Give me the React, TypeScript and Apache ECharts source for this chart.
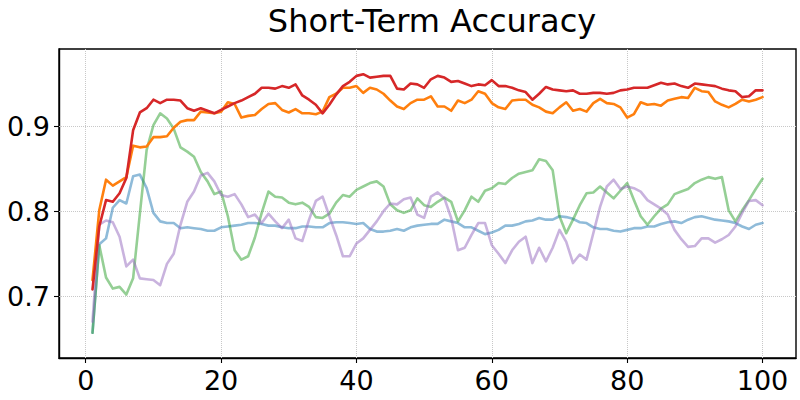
import React, { useEffect, useRef } from "react";
import * as echarts from "echarts";

const title = "Short-Term Accuracy";
const xTicks = [0, 20, 40, 60, 80, 100];
const yTicks = [0.7, 0.8, 0.9];

const redSeries = [
  0.708, 0.782, 0.813, 0.811, 0.821, 0.839, 0.895, 0.916, 0.921, 0.931,
  0.927, 0.931, 0.931, 0.930, 0.921, 0.918, 0.921, 0.918, 0.915, 0.919,
  0.923, 0.927, 0.930, 0.934, 0.938, 0.945, 0.945, 0.944, 0.947, 0.945,
  0.949, 0.936, 0.931, 0.925, 0.915, 0.925, 0.937, 0.947, 0.952, 0.959,
  0.961, 0.957, 0.958, 0.959, 0.959, 0.944, 0.943, 0.950, 0.949, 0.945,
  0.955, 0.959, 0.957, 0.952, 0.953, 0.950, 0.947, 0.949, 0.948, 0.954,
  0.947, 0.947, 0.945, 0.942, 0.940, 0.931, 0.938, 0.946, 0.943, 0.942,
  0.941, 0.942, 0.938, 0.938, 0.939, 0.939, 0.938, 0.939, 0.942, 0.943,
  0.945, 0.945, 0.945, 0.948, 0.951, 0.949, 0.950, 0.947, 0.945, 0.950,
  0.949, 0.948, 0.947, 0.944, 0.942, 0.941, 0.934, 0.935, 0.942, 0.942,
];

const orangeSeries = [
  0.719, 0.801, 0.837, 0.830, 0.835, 0.840, 0.877, 0.875, 0.876, 0.887,
  0.887, 0.888, 0.898, 0.905, 0.907, 0.907, 0.917, 0.916, 0.915, 0.917,
  0.928, 0.926, 0.910, 0.912, 0.913, 0.920, 0.926, 0.927, 0.919, 0.916,
  0.920, 0.915, 0.915, 0.914, 0.917, 0.934, 0.938, 0.945, 0.945, 0.947,
  0.939, 0.945, 0.943, 0.938, 0.930, 0.923, 0.920, 0.927, 0.931, 0.931,
  0.935, 0.923, 0.923, 0.918, 0.930, 0.927, 0.931, 0.941, 0.938, 0.927,
  0.922, 0.920, 0.930, 0.931, 0.931, 0.925, 0.922, 0.917, 0.915, 0.922,
  0.928, 0.918, 0.920, 0.917, 0.927, 0.932, 0.927, 0.926, 0.922, 0.910,
  0.914, 0.928, 0.925, 0.926, 0.924, 0.930, 0.932, 0.934, 0.933, 0.945,
  0.941, 0.940, 0.929, 0.925, 0.922, 0.926, 0.931, 0.929, 0.931, 0.934,
];

const greenSeries = [
  0.657, 0.760, 0.722, 0.709, 0.711, 0.702, 0.721, 0.797, 0.872, 0.901,
  0.915, 0.909, 0.897, 0.875, 0.870, 0.864, 0.846, 0.835, 0.820, 0.823,
  0.794, 0.754, 0.743, 0.747, 0.769, 0.798, 0.823, 0.817, 0.816, 0.810,
  0.808, 0.810, 0.805, 0.793, 0.792, 0.797, 0.810, 0.819, 0.817, 0.825,
  0.829, 0.833, 0.835, 0.829, 0.808, 0.801, 0.798, 0.801, 0.815, 0.807,
  0.805, 0.811, 0.816, 0.811, 0.788, 0.801, 0.817, 0.811, 0.824, 0.827,
  0.833, 0.832, 0.839, 0.844, 0.846, 0.848, 0.861, 0.859, 0.848, 0.794,
  0.774, 0.790, 0.807, 0.821, 0.822, 0.829, 0.822, 0.815, 0.824, 0.833,
  0.813, 0.794, 0.784, 0.794, 0.803, 0.808, 0.820, 0.823, 0.826, 0.833,
  0.837, 0.840, 0.838, 0.840, 0.801, 0.788, 0.801, 0.813, 0.826, 0.838,
];

const blueSeries = [
  0.657, 0.761, 0.768, 0.804, 0.813, 0.809, 0.841, 0.843, 0.827, 0.798,
  0.788, 0.786, 0.786, 0.780, 0.781, 0.780, 0.779, 0.777, 0.777, 0.781,
  0.782, 0.783, 0.784, 0.786, 0.786, 0.785, 0.783, 0.783, 0.781, 0.780,
  0.780, 0.782, 0.782, 0.781, 0.781, 0.786, 0.787, 0.787, 0.786, 0.785,
  0.786, 0.779, 0.776, 0.776, 0.777, 0.779, 0.777, 0.781, 0.783, 0.784,
  0.785, 0.785, 0.790, 0.788, 0.786, 0.781, 0.781, 0.777, 0.773, 0.775,
  0.778, 0.783, 0.783, 0.785, 0.788, 0.789, 0.792, 0.790, 0.790, 0.794,
  0.793, 0.791, 0.787, 0.786, 0.781, 0.779, 0.779, 0.777, 0.776, 0.778,
  0.780, 0.780, 0.782, 0.782, 0.785, 0.787, 0.788, 0.786, 0.790, 0.793,
  0.794, 0.792, 0.790, 0.789, 0.788, 0.786, 0.782, 0.779, 0.784, 0.786,
];

const purpleSeries = [
  0.670, 0.784, 0.789, 0.787, 0.770, 0.735, 0.743, 0.721, 0.720, 0.719,
  0.713, 0.738, 0.750, 0.784, 0.811, 0.823, 0.842, 0.845, 0.835, 0.819,
  0.817, 0.820, 0.808, 0.793, 0.796, 0.786, 0.797, 0.788, 0.780, 0.790,
  0.768, 0.765, 0.790, 0.812, 0.817, 0.794, 0.772, 0.747, 0.747, 0.762,
  0.768, 0.778, 0.788, 0.800, 0.809, 0.808, 0.814, 0.816, 0.796, 0.792,
  0.817, 0.822, 0.815, 0.792, 0.754, 0.757, 0.772, 0.786, 0.786, 0.760,
  0.750, 0.739, 0.754, 0.764, 0.770, 0.739, 0.757, 0.741, 0.757, 0.778,
  0.764, 0.739, 0.749, 0.743, 0.774, 0.805, 0.829, 0.837, 0.826, 0.829,
  0.827, 0.823, 0.813, 0.808, 0.803, 0.796, 0.778, 0.767, 0.758, 0.759,
  0.768, 0.768, 0.763, 0.767, 0.772, 0.782, 0.798, 0.812, 0.813, 0.807,
];

const FONT = "DejaVu Sans";

function toPairs(arr: number[]) {
  return arr.map((v, i) => [i + 1, v]);
}

export default function App() {
  const ref = useRef<HTMLDivElement>(null);
  useEffect(() => {
    if (!ref.current) return;
    const chart = echarts.init(ref.current, null, { renderer: "svg" });
    const lineSeries = (name: string, data: number[], color: string, opacity: number, z: number) => ({
      name,
      type: "line",
      data: toPairs(data),
      showSymbol: false,
      symbol: "none",
      z,
      lineStyle: { color, width: 2.6, opacity, join: "round", cap: "round" },
      itemStyle: { color },
    });
    chart.setOption({
      animation: false,
      backgroundColor: "#fff",
      title: {
        text: title,
        left: 427,
        textAlign: "center",
        top: 0,
        textStyle: { fontFamily: FONT, fontSize: 32, fontWeight: "normal", color: "#000" },
      },
      grid: {
        left: 59,
        right: 4,
        top: 49,
        bottom: 42,
        show: true,
        borderColor: "#000",
        borderWidth: 1.4,
        backgroundColor: "transparent",
      },
      xAxis: {
        type: "value",
        min: -3.95,
        max: 104.95,
        axisLine: { show: true, onZero: false, lineStyle: { color: "#000", width: 1.4 } },
        axisTick: { show: true, inside: false, length: 5, customValues: xTicks, lineStyle: { color: "#000", width: 1.1 } },
        axisLabel: {
          show: true,
          customValues: xTicks,
          margin: 9,
          color: "#000",
          fontFamily: FONT,
          fontSize: 27,
        },
        splitLine: { show: false },
      },
      yAxis: {
        type: "value",
        min: 0.6274,
        max: 0.9906,
        axisLine: { show: true, onZero: false, lineStyle: { color: "#000", width: 1.4 } },
        axisTick: { show: true, inside: false, length: 5, customValues: yTicks, lineStyle: { color: "#000", width: 1.1 } },
        axisLabel: {
          show: true,
          customValues: yTicks,
          margin: 9,
          color: "#000",
          fontFamily: FONT,
          fontSize: 27,
          formatter: (v: number) => v.toFixed(1),
        },
        splitLine: { show: false },
      },
      series: [
        {
          ...lineSeries("blue", blueSeries, "#1f77b4", 0.5, 2),
          markLine: {
            silent: true,
            symbol: "none",
            label: { show: false },
            lineStyle: { type: "dotted", color: "#c8c8c8", width: 1, opacity: 1 },
            data: [
              ...xTicks.map((x) => ({ xAxis: x })),
              ...yTicks.map((y) => ({ yAxis: y })),
            ],
            z: 1,
          },
        },
        lineSeries("green", greenSeries, "#2ca02c", 0.5, 3),
        lineSeries("purple", purpleSeries, "#9467bd", 0.5, 4),
        lineSeries("orange", orangeSeries, "#ff7f0e", 1, 5),
        lineSeries("red", redSeries, "#d62728", 1, 6),
      ],
    });
    return () => chart.dispose();
  }, []);
  return (
    <div
      ref={ref}
      style={{ position: "absolute", left: 0, top: 0, width: 800, height: 400 }}
    />
  );
}
